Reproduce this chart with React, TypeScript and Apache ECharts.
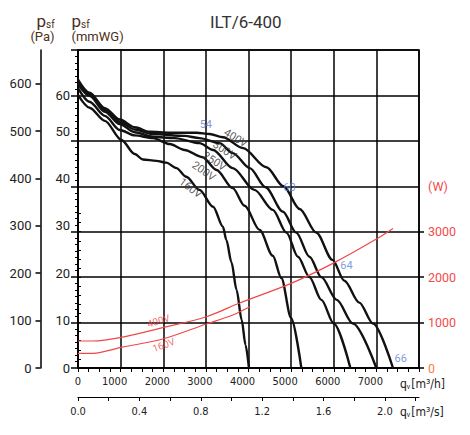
import React, { useEffect, useRef } from 'react';
import * as echarts from 'echarts';

const CHART_TITLE = 'ILT/6-400';

// Fan curves: flow q [m3/h] and static pressure [mmWG]
const Q_400 = [0, 270, 630, 980, 1330, 1680, 2150, 2780, 3090, 3400, 3870, 4420, 4820, 5200, 5590, 5970, 6250, 6600, 6920, 7390];
const H_400 = [63.5, 60.6, 57.2, 54.7, 53.0, 52.0, 51.8, 51.8, 51.5, 50.8, 48.4, 44.2, 40.0, 35.0, 29.8, 23.8, 19.2, 14.4, 9.8, 0];
const Q_300 = [0, 270, 630, 980, 1330, 1760, 2500, 2850, 3320, 3630, 4030, 4400, 4810, 5120, 5430, 5710, 6070, 6450, 7000];
const H_300 = [63.0, 60.3, 56.8, 54.2, 52.5, 51.5, 51.1, 50.6, 49.5, 47.3, 44.0, 39.8, 34.4, 29.8, 24.5, 20.0, 15.0, 9.8, 0];
const Q_250 = [0, 270, 630, 980, 1330, 1760, 2270, 2850, 3170, 3630, 4140, 4570, 4890, 5160, 5430, 5710, 6000, 6390];
const H_250 = [62.5, 59.9, 56.4, 53.7, 51.9, 50.9, 50.6, 49.5, 48.0, 44.0, 39.2, 34.8, 29.8, 24.5, 20.0, 15.0, 9.8, 0];
const Q_200 = [0, 270, 630, 980, 1330, 1760, 2150, 2500, 2920, 3250, 3630, 3910, 4260, 4570, 4770, 5000, 5240];
const H_200 = [61.6, 58.6, 55.5, 52.4, 51.2, 50.6, 49.3, 48.0, 46.4, 43.6, 39.6, 35.7, 30.4, 24.7, 19.8, 11.0, 0];
const Q_160 = [0, 270, 630, 1020, 1330, 1520, 1840, 2070, 2310, 2540, 2850, 3170, 3400, 3480, 3600, 3720, 3840, 3930, 4010];
const H_160 = [60.1, 57.3, 54.4, 50.2, 47.1, 45.9, 45.6, 45.2, 44.0, 42.1, 39.2, 35.5, 31.1, 28.2, 23.3, 17.2, 10.6, 5.1, 0];

const FAN_NAMES = ['400V', '300V', '250V', '200V', '160V'];
const FAN_Q = [Q_400, Q_300, Q_250, Q_200, Q_160];
const FAN_H = [H_400, H_300, H_250, H_200, H_160];

// Power curves [W]
const P400_Q = [0, 350, 1020, 1990, 3010, 3790, 5000, 5980, 6960, 7390];
const P400_W = [594, 594, 675, 887, 1129, 1430, 1863, 2303, 2816, 3073];
const P160_Q = [0, 350, 1020, 1990, 3010, 3630, 4030];
const P160_W = [323, 323, 455, 638, 968, 1166, 1349];

// Curve labels
const FAN_LABEL_Q = [3700, 3440, 3200, 2950, 2640];
const FAN_LABEL_H = [50.6, 47.9, 45.5, 43.3, 39.6];
const FAN_LABEL_ROT = [-31, -33, -33, -35, -37];
const EFF_LABELS = ['54', '60', '64', '66'];
const EFF_Q = [3000, 4960, 6300, 7570];
const EFF_H = [53.7, 39.8, 22.5, 2.0];
const POWER_LABELS = ['400V', '160V'];
const POWER_LABEL_Q = [1890, 2010];
const POWER_LABEL_W = [1034, 506];
const POWER_LABEL_ROT = [17, 20];

// Axes
const Q_MAX = 8000;
const H_MAX = 70;
const PA_MAX = 671;
const W_MAX = 7000;
const PA_TICKS = [0, 100, 200, 300, 400, 500, 600];
const MMWG_LABEL_POS = [0, 100, 200, 300, 400, 500, 575];
const MMWG_LABELS = ['0', '10', '20', '30', '40', '50', '60'];
const QS_TICKS = [0, 0.2, 0.4, 0.6, 0.8, 1.0, 1.2, 1.4, 1.6, 1.8, 2.0, 2.2];
const QS_LABELS = [0, 0.4, 0.8, 1.2, 1.6, 2.0];
const W_MINOR_TICKS = [0, 200, 400, 600, 800, 1000, 1200, 1400, 1600, 1800, 2000, 2200, 2400, 2600, 2800, 3000, 3200, 3400];
const W_MAJOR_TICKS = [0, 1000, 2000, 3000];
const W_LABEL_POS = [0, 1000, 2000, 3000, 4000];
const W_LABELS = ['0', '1000', '2000', '3000', '(W)'];

const FONT = 'Roboto, "Liberation Sans", sans-serif';
const NARROW = '"Liberation Sans Narrow", "DejaVu Sans Condensed", Roboto, sans-serif';
const RED = '#f04848';
const BLUE = '#5b7fd1';
const TITLE_COLOR = '#4d2f1a';

export default function App() {
  const ref = useRef<HTMLDivElement>(null);

  useEffect(() => {
    if (!ref.current) return;
    const chart = echarts.init(ref.current, null, { renderer: 'svg' });

    const black = { color: '#000', width: 1.5 };
    const thin = { color: '#000', width: 1 };

    const fanSeries = FAN_NAMES.map((name, k) => ({
      type: 'line',
      name,
      xAxisIndex: 0,
      yAxisIndex: 0,
      data: FAN_Q[k].map((q, i) => [q, FAN_H[k][i]]),
      showSymbol: false,
      symbol: 'none',
      smooth: 0.3,
      smoothMonotone: 'x',
      lineStyle: { color: '#111', width: 2.4 },
      z: 4,
      silent: true,
    }));

    const powerSeries = [
      [P400_Q, P400_W],
      [P160_Q, P160_W],
    ].map(([qs, ws], k) => ({
      type: 'line',
      name: 'P' + POWER_LABELS[k],
      xAxisIndex: 0,
      yAxisIndex: 3,
      data: qs.map((q, i) => [q, ws[i]]),
      showSymbol: false,
      symbol: 'none',
      smooth: 0.3,
      lineStyle: { color: RED, width: 1.2 },
      z: 5,
      silent: true,
    }));

    const labelBase = {
      type: 'scatter',
      symbolSize: 1,
      itemStyle: { color: 'rgba(0,0,0,0)' },
      silent: true,
      z: 6,
    };

    const fanLabelSeries = {
      ...labelBase,
      xAxisIndex: 0,
      yAxisIndex: 0,
      data: FAN_NAMES.map((n, i) => ({
        name: n,
        value: [FAN_LABEL_Q[i], FAN_LABEL_H[i]],
        label: { rotate: FAN_LABEL_ROT[i] },
      })),
      label: {
        show: true,
        position: 'inside',
        formatter: (p: any) => p.name,
        fontFamily: FONT,
        fontSize: 11,
        color: '#333',
      },
    };

    const effLabelSeries = {
      ...labelBase,
      xAxisIndex: 0,
      yAxisIndex: 0,
      data: EFF_LABELS.map((n, i) => ({ name: n, value: [EFF_Q[i], EFF_H[i]] })),
      label: {
        show: true,
        position: 'inside',
        formatter: (p: any) => p.name,
        fontFamily: FONT,
        fontSize: 11,
        color: BLUE,
      },
    };

    const powerLabelSeries = {
      ...labelBase,
      xAxisIndex: 0,
      yAxisIndex: 3,
      data: POWER_LABELS.map((n, i) => ({
        name: n,
        value: [POWER_LABEL_Q[i], POWER_LABEL_W[i]],
        label: { rotate: POWER_LABEL_ROT[i] },
      })),
      label: {
        show: true,
        position: 'inside',
        formatter: (p: any) => p.name,
        fontFamily: FONT,
        fontSize: 10,
        color: RED,
      },
    };

    const psfText = (x: number) => ({
      type: 'text',
      x,
      y: 29,
      style: {
        text: '{p|p}{s|sf}',
        align: 'left',
        verticalAlign: 'bottom',
        rich: {
          p: { fontFamily: FONT, fontSize: 17, fill: TITLE_COLOR, verticalAlign: 'bottom' },
          s: { fontFamily: FONT, fontSize: 10, fill: TITLE_COLOR, verticalAlign: 'bottom' },
        },
      },
    });

    const flowName = (y: number, unit: string) => ({
      type: 'text',
      x: 400,
      y,
      style: {
        text: `{q|q}{v|v}{u|${unit}}`,
        align: 'left',
        verticalAlign: 'middle',
        rich: {
          q: { fontFamily: FONT, fontSize: 12, fill: '#222', verticalAlign: 'bottom' },
          v: { fontFamily: FONT, fontSize: 7, fill: '#222', verticalAlign: 'bottom' },
          u: { fontFamily: NARROW, fontSize: 12, fill: '#222', verticalAlign: 'bottom', padding: [0, 0, 0, 1] },
        },
      },
    });

    const option: any = {
      animation: false,
      backgroundColor: '#fff',
      title: {
        text: CHART_TITLE,
        left: 210,
        top: 13,
        padding: 0,
        textStyle: { fontFamily: FONT, fontSize: 17, fontWeight: 'normal', color: '#333' },
      },
      grid: {
        left: 78,
        top: 50,
        width: 341,
        height: 318,
        show: true,
        borderColor: '#000',
        borderWidth: 1.5,
        backgroundColor: 'transparent',
      },
      xAxis: [
        {
          type: 'value',
          position: 'bottom',
          min: 0,
          max: Q_MAX,
          interval: 1000,
          axisLine: { show: true, onZero: false, lineStyle: black },
          axisTick: { show: true, length: 4, lineStyle: thin },
          minorTick: { show: true, splitNumber: 4, length: 4, lineStyle: thin },
          splitLine: { show: true, lineStyle: black },
          axisLabel: {
            show: true,
            margin: 8,
            fontFamily: NARROW,
            fontSize: 11,
            color: '#222',
            formatter: (v: number) => (v === 0 ? '{z|0}' : v >= Q_MAX ? '' : `{s|${v}}`),
            rich: {
              z: { fontFamily: NARROW, fontSize: 11, color: '#222' },
              s: { fontFamily: NARROW, fontSize: 11, color: '#222', padding: [0, 12, 0, 0] },
            },
          },
        },
        {
          type: 'value',
          position: 'bottom',
          offset: 29,
          min: 0,
          max: Q_MAX / 3600,
          axisLine: { show: true, onZero: false, lineStyle: { color: '#000', width: 1.2 } },
          axisTick: { show: true, length: 4, customValues: QS_TICKS, lineStyle: thin },
          splitLine: { show: false },
          axisLabel: {
            show: true,
            margin: 9,
            customValues: QS_LABELS,
            fontFamily: NARROW,
            fontSize: 11,
            color: '#222',
            formatter: (v: number) => v.toFixed(1),
          },
        },
      ],
      yAxis: [
        {
          type: 'value',
          position: 'left',
          min: 0,
          max: H_MAX,
          interval: 10,
          axisLine: { show: true, onZero: false, lineStyle: black },
          axisTick: { show: true, length: 7, lineStyle: black },
          minorTick: { show: true, splitNumber: 7, length: 3, lineStyle: thin },
          splitLine: { show: true, lineStyle: black },
          axisLabel: { show: false },
        },
        {
          type: 'value',
          position: 'left',
          min: 0,
          max: PA_MAX,
          axisLine: { show: false },
          axisTick: { show: false },
          splitLine: { show: false },
          axisLabel: {
            show: true,
            margin: 8,
            customValues: MMWG_LABEL_POS,
            fontFamily: FONT,
            fontSize: 13,
            color: '#222',
            formatter: (v: number) => {
              const i = MMWG_LABEL_POS.indexOf(v);
              return i >= 0 ? MMWG_LABELS[i] : '';
            },
          },
        },
        {
          type: 'value',
          position: 'left',
          offset: 37.5,
          min: 0,
          max: PA_MAX,
          axisLine: { show: true, onZero: false, lineStyle: black },
          axisTick: { show: true, length: 5, customValues: PA_TICKS, lineStyle: black },
          splitLine: { show: false },
          axisLabel: {
            show: true,
            margin: 9,
            customValues: PA_TICKS,
            fontFamily: FONT,
            fontSize: 13,
            color: '#222',
          },
        },
        {
          type: 'value',
          position: 'right',
          min: 0,
          max: W_MAX,
          axisLine: { show: false },
          axisTick: { show: true, length: 3, customValues: W_MINOR_TICKS, lineStyle: thin },
          splitLine: { show: false },
          axisLabel: {
            show: true,
            margin: 9,
            customValues: W_LABEL_POS,
            fontFamily: FONT,
            fontSize: 12.5,
            formatter: (v: number) => {
              const i = W_LABEL_POS.indexOf(v);
              if (i < 0) return '';
              return v === 0 ? `{z|${W_LABELS[i]}}` : `{r|${W_LABELS[i]}}`;
            },
            rich: {
              z: { fontFamily: FONT, fontSize: 12.5, color: '#ff7a4a' },
              r: { fontFamily: FONT, fontSize: 12.5, color: '#f24b4b' },
            },
          },
        },
        {
          type: 'value',
          position: 'right',
          min: 0,
          max: W_MAX,
          axisLine: { show: false },
          axisTick: { show: true, length: 5, customValues: W_MAJOR_TICKS, lineStyle: black },
          splitLine: { show: false },
          axisLabel: { show: false },
        },
      ],
      graphic: [
        psfText(36.5),
        {
          type: 'text',
          x: 42.5,
          y: 30,
          style: {
            text: '(Pa)',
            align: 'center',
            verticalAlign: 'top',
            fontFamily: FONT,
            fontSize: 13,
            fill: TITLE_COLOR,
          },
        },
        psfText(71.5),
        {
          type: 'text',
          x: 71.5,
          y: 30,
          style: {
            text: '(mmWG)',
            align: 'left',
            verticalAlign: 'top',
            fontFamily: FONT,
            fontSize: 13,
            fill: TITLE_COLOR,
          },
        },
        flowName(384, '[m³/h]'),
        flowName(412, '[m³/s]'),
      ],
      series: [...fanSeries, ...powerSeries, fanLabelSeries, effLabelSeries, powerLabelSeries],
    };

    chart.setOption(option);
    return () => chart.dispose();
  }, []);

  return (
    <div
      ref={ref}
      style={{ position: 'fixed', left: 0, top: 0, width: 470, height: 435, background: '#fff' }}
    />
  );
}
